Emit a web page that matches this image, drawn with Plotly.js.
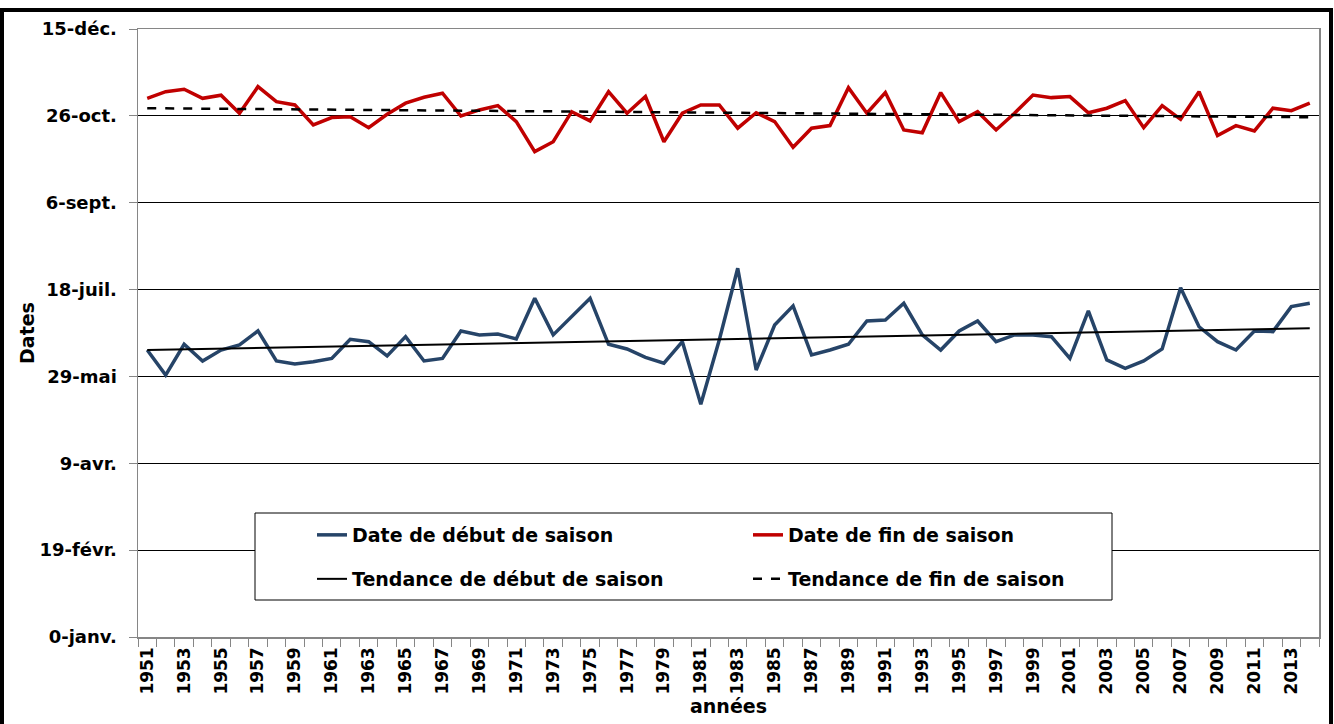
<!DOCTYPE html>
<html>
<head>
<meta charset="utf-8">
<script src="https://cdn.plot.ly/plotly-3.0.1.min.js"></script>
<style>
html, body { margin: 0; padding: 0; background: #fff; }
#chart { width: 1334px; height: 724px; }
</style>
</head>
<body>
<div id="chart"></div>
<script>
// Years (categories)
const years = [1951,1952,1953,1954,1955,1956,1957,1958,1959,1960,
  1961,1962,1963,1964,1965,1966,1967,1968,1969,1970,
  1971,1972,1973,1974,1975,1976,1977,1978,1979,1980,
  1981,1982,1983,1984,1985,1986,1987,1988,1989,1990,
  1991,1992,1993,1994,1995,1996,1997,1998,1999,2000,
  2001,2002,2003,2004,2005,2006,2007,2008,2009,2010,
  2011,2012,2013,2014];

// Start of season (day of year, Excel serial days)
const debutSaison = [165.2,150.8,168.5,158.9,165.2,168.1,176.2,158.9,157.2,158.5,
  160.4,171.4,170.0,161.8,172.9,158.9,160.4,176.2,173.9,174.4,
  171.6,195.0,173.9,184.4,195.0,168.5,165.8,161.0,157.6,170.0,
  134.0,171.0,212.3,153.7,179.6,190.6,162.4,165.2,168.5,181.9,
  182.5,192.1,173.9,165.2,176.2,181.9,170.0,173.9,173.9,172.9,
  160.4,187.7,159.5,154.7,158.9,165.8,201.1,178.6,170.0,165.2,
  176.2,175.8,190.2,192.1];

// End of season
const finSaison = [310.1,313.9,315.3,310.1,311.9,301.5,316.8,308.2,306.3,294.8,
  299.0,299.5,293.2,300.9,307.3,310.7,313.0,299.9,303.4,305.9,
  296.7,279.4,285.1,302.4,297.1,313.9,301.5,311.1,285.1,301.5,
  306.3,306.3,292.9,301.8,296.7,281.9,292.9,294.4,316.2,301.5,
  313.4,291.9,290.3,313.4,296.7,302.4,291.9,301.5,312.0,310.5,
  311.1,301.8,304.4,308.8,293.2,305.9,298.0,313.9,288.6,294.4,
  291.3,304.4,303.0,307.3];

// Linear trends (end points)
const trendYears = [1951, 2014];
const trendDebut = [165.2, 177.7];
const trendFin = [304.4, 299.2];

// Y axis tick labels (dates)
const yTickVals = [0, 50, 100, 150, 200, 250, 300, 350];
const yTickText = ['0-janv.', '19-févr.', '9-avr.', '29-mai', '18-juil.', '6-sept.', '26-oct.', '15-déc.'];

const seriesNames = ['Date de début de saison', 'Date de fin de saison',
  'Tendance de début de saison', 'Tendance de fin de saison'];

const FONT = '"DejaVu Sans", "Open Sans", sans-serif';

const L = 138, R = 15, T = 29, B = 87;
const W = 1334, H = 724;
const pw = W - L - R, ph = H - T - B;
function px2x(p) { return (p - L) / pw; }
function py2y(p) { return (H - B - p) / ph; }

const traces = [
  { x: years, y: debutSaison, name: seriesNames[0], type: 'scatter', mode: 'lines',
    legend: 'legend', line: { color: '#264468', width: 3.5 } },
  { x: years, y: finSaison, name: seriesNames[1], type: 'scatter', mode: 'lines',
    legend: 'legend', line: { color: '#C00000', width: 3.5 } },
  { x: trendYears, y: trendDebut, name: seriesNames[2], type: 'scatter', mode: 'lines',
    legend: 'legend2', line: { color: '#000000', width: 2 } },
  { x: trendYears, y: trendFin, name: seriesNames[3], type: 'scatter', mode: 'lines',
    legend: 'legend2', line: { color: '#000000', width: 2.5, dash: 'dash' } }
];

const legendFont = { family: FONT, size: 19, weight: 'bold', color: '#000000' };
function legendRow(topPx) {
  return {
    orientation: 'h',
    x: px2x(312), xanchor: 'left',
    y: py2y(topPx), yanchor: 'top',
    bgcolor: 'rgba(0,0,0,0)',
    borderwidth: 0,
    font: legendFont,
    entrywidth: 391,
    traceorder: 'normal'
  };
}

const layout = {
  width: W, height: H,
  margin: { l: L, r: R, t: T, b: B },
  paper_bgcolor: '#ffffff',
  plot_bgcolor: '#ffffff',
  font: { family: FONT, color: '#000000' },
  showlegend: true,
  legend: legendRow(516),
  legend2: legendRow(560),
  xaxis: {
    type: 'linear',
    range: [1950.5, 2014.5],
    tickmode: 'linear', tick0: 1951, dtick: 2,
    ticks: '',
    tickangle: -90,
    ticklabelstandoff: 2,
    tickfont: { family: FONT, size: 17, weight: 'bold', color: '#000000' },
    showgrid: false,
    zeroline: false,
    showline: true, linecolor: '#868686', linewidth: 1.5,
    mirror: true,
    minor: { tickmode: 'linear', tick0: 1950.5, dtick: 1, ticks: 'outside', ticklen: 8,
             tickcolor: '#868686', tickwidth: 1, showgrid: false },
    title: { text: 'années', font: { family: FONT, size: 19, weight: 'bold' }, standoff: 3 },
    fixedrange: true
  },
  yaxis: {
    range: [0, 350],
    tickmode: 'array', tickvals: yTickVals, ticktext: yTickText,
    ticks: 'outside', ticklen: 8, tickcolor: '#868686',
    ticklabelstandoff: 8,
    tickfont: { family: FONT, size: 18, weight: 'bold', color: '#000000' },
    showgrid: true, gridcolor: '#000000', gridwidth: 1,
    zeroline: false,
    showline: true, linecolor: '#868686', linewidth: 1.5,
    mirror: true,
    title: { text: 'Dates', font: { family: FONT, size: 19, weight: 'bold' }, standoff: 0 },
    fixedrange: true
  },
  shapes: [
    { type: 'rect', xref: 'paper', yref: 'paper',
      x0: px2x(2), x1: px2x(1331), y0: py2y(735), y1: py2y(10),
      line: { color: '#000000', width: 4 }, fillcolor: 'rgba(0,0,0,0)', layer: 'below' },
    { type: 'rect', xref: 'paper', yref: 'paper',
      x0: px2x(255), x1: px2x(1112), y0: py2y(600), y1: py2y(513),
      line: { color: '#000000', width: 1 }, fillcolor: '#ffffff', layer: 'above' }
  ]
};

Plotly.newPlot('chart', traces, layout, { displayModeBar: false, staticPlot: true });
</script>
</body>
</html>
